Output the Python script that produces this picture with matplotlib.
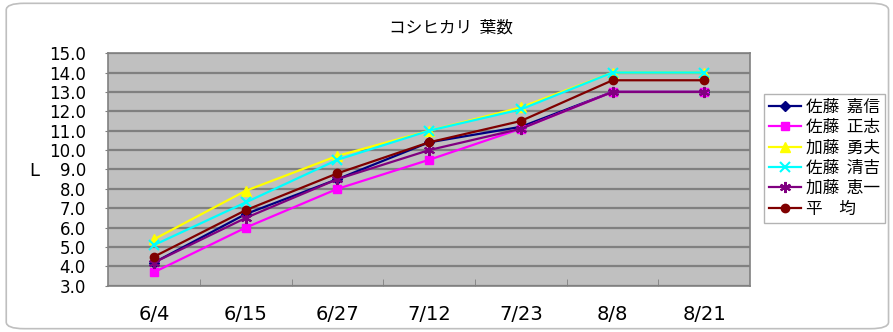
import matplotlib
matplotlib.use("Agg")
import matplotlib.pyplot as plt
from matplotlib.patches import FancyBboxPatch

plt.rcParams['font.family'] = ['Noto Sans CJK JP', 'DejaVu Sans']

# ---------------- データ ----------------
dates = ['6/4', '6/15', '6/27', '7/12', '7/23', '8/8', '8/21']
sato_yoshinobu = [4.2, 6.7, 8.5, 10.4, 11.2, 13.0, 13.0]
sato_masashi = [3.7, 6.0, 8.0, 9.5, 11.1, 13.0, 13.0]
kato_isao = [5.4, 7.9, 9.7, 11.0, 12.2, 14.0, 14.0]
sato_seikichi = [5.1, 7.3, 9.5, 11.0, 12.1, 14.0, 14.0]
kato_keiichi = [4.2, 6.5, 8.5, 10.0, 11.1, 13.0, 13.0]
heikin = [4.5, 6.9, 8.8, 10.4, 11.5, 13.6, 13.6]

series = [
    ('佐藤  嘉信', sato_yoshinobu, '#000080', 'D', 5),
    ('佐藤  正志', sato_masashi, '#FF00FF', 's', 6),
    ('加藤  勇夫', kato_isao, '#FFFF00', '^', 7),
    ('佐藤  清吉', sato_seikichi, '#00FFFF', 'x', 7),
    ('加藤  恵一', kato_keiichi, '#800080', (6, 2, 0), 8),
    ('平　均', heikin, '#800000', 'o', 6),
]

# ---------------- 図 ----------------
fig = plt.figure(figsize=(8.93, 3.32), dpi=100)
fig.patch.set_facecolor('white')

# 外枠（角丸）
frame = FancyBboxPatch((0.007, 0.01), 0.988, 0.98,
                       boxstyle='round,pad=0,rounding_size=0.02',
                       transform=fig.transFigure, facecolor='none',
                       edgecolor='#BFBFBF', linewidth=1.2, zorder=-1)
fig.patches.append(frame)

ax = fig.add_axes([0.121, 0.139, 0.719, 0.701])
ax.set_zorder(2)
ax.set_facecolor('#C0C0C0')

x = list(range(len(dates)))
for name, vals, color, marker, ms in series:
    ax.plot(x, vals, color=color, marker=marker, markersize=ms,
            markeredgewidth=1.5 if marker in ('x', (6, 2, 0)) else 1,
            markeredgecolor=color, linewidth=1.6, label=name, zorder=3)

ax.set_xlim(-0.5, len(dates) - 0.5)
ax.set_ylim(3.0, 15.0)
ax.set_yticks([3.0 + i for i in range(13)])
ax.set_yticklabels(['%.1f' % (3.0 + i) for i in range(13)],
                   fontsize=12, family='DejaVu Sans')
ax.set_xticks(x)
ax.set_xticklabels(dates, fontsize=14, family='DejaVu Sans')
ax.set_xticks([i + 0.5 for i in range(len(dates) - 1)], minor=True)
ax.tick_params(axis='x', which='major', length=0, pad=14)
ax.tick_params(axis='x', which='minor', direction='in', length=5, color='#808080')
ax.tick_params(axis='y', length=2, color='#808080', pad=14)
ax.yaxis.grid(True, color='#808080', linewidth=1.6)
ax.set_axisbelow(True)
for sp in ax.spines.values():
    sp.set_color('#808080')
    sp.set_linewidth(1.2)

fig.text(34 / 893, 1 - 171 / 332, 'L', fontsize=13, family='DejaVu Sans',
         ha='center', va='center')
fig.text(0.505, 0.916, 'コシヒカリ  葉数', ha='center', va='center', fontsize=12)

leg = ax.legend(loc='upper left', bbox_to_anchor=(1.022, 0.825),
                fontsize=12, frameon=True, fancybox=False,
                borderpad=0.3, labelspacing=0.2, handlelength=1.9,
                handletextpad=0.3, borderaxespad=0)
leg.get_frame().set_edgecolor('#A0A0A0')
leg.get_frame().set_linewidth(1.0)

fig.savefig('out.png', dpi=100)
